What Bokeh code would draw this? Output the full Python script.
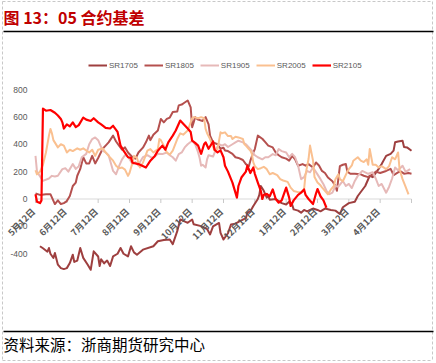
import math
from bokeh.plotting import figure
from bokeh.models import Range1d, Label, Span, Legend, LegendItem
from bokeh.core.properties import value
from bokeh.embed import file_html
from bokeh.resources import INLINE

# ---------------- data (trading-day index, basis value) ----------------
month_labels = ["5月12日", "6月12日", "7月12日", "8月12日", "9月12日", "10月12日",
                "11月12日", "12月12日", "1月12日", "2月12日", "3月12日", "4月12日"]
days_per_label = 21
n_days = 252
y_ticks = [800, 600, 400, 200, 0, -200, -400]
y_tick_labels = ["800", "600", "400", "200", "0", "-200", "-400"]

sr1705_day = [3,5,8,9,10,12,13,15,17,19,21,23,25,26,28,30,32,35,37,39,42,43,44,46,48,50,52,55,57,59,62,64,66,68,72,79,82,86,90,92,95,97,102,105,106,111,115,117,119,123,124,126,129,131,134,137,141,142,144,146,149,150,151,153,155,156,157,161,163,165,168,170,172,173,176,178,180,182,184,186,189,191,194,198,201,204,206,210,214,216,221,224,226,230,232,235,238,240,241,243,246,247,249,252]
sr1705_val = [-345,-360,-385,-358,-400,-431,-394,-480,-505,-512,-505,-468,-407,-460,-450,-358,-430,-480,-517,-382,-420,-490,-440,-470,-450,-490,-419,-400,-358,-400,-419,-345,-390,-407,-370,-345,-309,-300,-296,-330,-235,-149,-174,-150,-185,-198,-220,-259,-200,-175,-247,-296,-250,-186,-180,-162,-140,-100,-90,-51,0,30,95,60,10,20,-5,0,-15,-30,-40,-20,-40,-76,-85,-100,-80,-90,-80,-70,-80,-90,-70,-80,-85,-110,-60,-30,-20,22,95,170,160,220,255,315,330,353,414,420,426,380,377,353]

sr1805_day = [0,3,7,10,13,15,17,19,21,23,25,27,28,30,32,34,36,38,40,42,45,47,49,52,54,56,58,60,62,65,67,69,72,74,76,77,79,82,84,86,88,90,92,95,96,98,100,102,104,105,106,107,109,112,114,116,117,119,122,124,126,127,129,132,134,136,139,141,143,144,146,147,149,152,154,156,159,161,163,165,168,170,172,174,176,179,181,183,186,188,190,192,194,196,199,201,202,204,206,208,209,211,214,218,220,223,226,228,231,235,238,240,243,245,247,250,252]
sr1805_val = [40,30,35,35,-37,-10,-37,-30,-15,22,95,120,170,220,305,260,260,315,260,300,367,390,414,463,420,390,360,377,340,305,295,340,375,414,463,430,470,500,585,560,585,595,635,640,684,690,705,720,670,524,560,598,580,570,598,545,463,414,400,367,375,355,350,330,305,300,285,255,240,280,340,365,463,440,415,390,377,340,320,305,295,280,315,290,243,255,243,255,230,267,245,205,190,157,130,95,60,240,250,255,200,184,184,180,170,160,180,200,190,205,220,175,195,200,185,190,185]

sr1905_day = [0,1,5,9,11,13,15,18,20,22,25,27,29,31,34,36,38,40,42,45,47,49,52,54,56,58,60,62,65,67,69,70,72,75,78,80,82,85,88,90,92,94,96,98,100,102,105,107,109,110,111,112,114,115,116,119,121,123,125,127,129,132,134,136,139,141,143,145,147,149,152,154,156,159,161,163,165,168,170,172,174,176,178,180,182,184,186,189,191,193,195,197,199,201,203,206,208,210,212,214,216,219,221,223,226,228,230,232,235,237,239,241,243,246,248,250,251]
sr1905_val = [315,200,132,150,169,165,170,218,225,200,255,220,240,305,330,400,438,450,430,353,340,320,205,181,240,290,320,310,255,270,243,270,305,320,300,310,330,328,340,320,305,280,328,340,377,400,426,400,340,300,243,250,230,290,320,310,365,400,390,400,380,400,414,426,414,400,377,353,320,305,290,305,305,328,320,365,350,340,305,330,305,243,145,160,205,195,230,180,145,108,60,35,46,95,90,132,95,110,80,132,169,205,195,184,195,150,95,110,46,90,150,230,210,243,200,210,220]

sr2005_day = [0,1,3,5,7,9,10,11,12,15,17,19,21,23,25,28,30,32,36,38,40,42,45,47,49,52,54,56,58,60,62,63,65,66,68,70,72,75,77,79,82,83,84,86,88,90,92,95,97,99,102,104,105,106,109,111,113,114,115,117,119,120,122,124,125,127,129,131,132,134,136,139,140,141,143,144,145,146,147,149,151,153,155,157,159,162,164,166,169,171,173,176,178,180,181,183,184,186,187,189,191,192,194,196,198,200,201,203,204,206,209,210,212,213,216,218,220,222,223,224,226,228,230,232,235,237,239,241,243,244,246,248,250]
sr2005_val = [210,180,200,250,340,463,512,480,430,377,400,390,340,360,350,370,360,370,340,360,315,360,370,340,315,280,243,225,230,215,169,190,265,315,300,230,265,353,365,340,365,438,430,390,340,325,353,438,480,470,500,560,590,598,590,598,590,512,480,438,380,353,365,487,480,487,460,460,438,455,450,438,400,390,365,353,330,267,240,218,225,235,218,181,190,175,145,135,125,83,59,50,50,70,180,292,390,280,160,120,100,85,60,34,70,95,145,181,145,130,200,218,245,280,305,280,270,290,250,365,250,250,230,240,218,240,305,290,340,218,145,90,34]

sr2105_day = [0,1,3,4,5,7,10,13,15,17,18,19,21,23,25,27,29,32,34,37,39,42,44,47,50,52,55,57,59,62,64,65,69,74,77,80,82,85,87,89,92,94,97,99,102,104,105,107,109,111,113,114,116,119,120,122,124,126,127,129,132,135,136,138,141,142,144,146,147,149,151,152,153,155,157,159,161,163,165,168,170,171,173,176,178,180,181,183,186,188,189,191,193,195]
sr2105_val = [35,-20,-30,-10,660,645,650,630,610,585,560,515,545,530,560,525,540,595,580,570,590,560,545,520,515,535,490,390,353,305,300,265,255,230,280,315,353,390,360,414,463,500,573,550,515,490,426,410,390,330,400,414,367,420,360,340,355,305,243,200,120,10,95,157,200,243,190,230,184,120,60,0,30,37,20,70,0,-27,-10,83,10,-51,-10,30,46,70,30,0,-37,40,73,20,-10,-64]

series = [
    ("SR1705", sr1705_day, sr1705_val, "#9E3F3F", 2.0),
    ("SR1805", sr1805_day, sr1805_val, "#B5504E", 2.0),
    ("SR1905", sr1905_day, sr1905_val, "#E6B9B8", 2.0),
    ("SR2005", sr2005_day, sr2005_val, "#FAC090", 2.0),
    ("SR2105", sr2105_day, sr2105_val, "#FF0000", 2.2),
]

# ---------------- layout ----------------
W, H = 436, 363
PX_PER_DAY = 376 / n_days
PX_PER_UNIT = 109.5 / 800
X0 = 35.0     # canvas x of first trading day
Y0 = 198.5    # canvas y of value 0

x_start = -X0 / PX_PER_DAY
x_end = x_start + W / PX_PER_DAY
y_end = Y0 / PX_PER_UNIT
y_start = y_end - H / PX_PER_UNIT


def cx(px):
    """canvas x pixel -> data x"""
    return x_start + px / PX_PER_DAY


def cy(py):
    """canvas y pixel (from top) -> data y"""
    return y_end - py / PX_PER_UNIT


p = figure(width=W, height=H, output_backend="svg", toolbar_location=None,
           x_range=Range1d(x_start, x_end), y_range=Range1d(y_start, y_end),
           x_axis_location=None, y_axis_location=None, min_border=0,
           outline_line_color=None, background_fill_color="white",
           border_fill_color="white")
p.grid.visible = False

# dashed page border
p.segment(x0=[cx(2), cx(432), cx(2), cx(2)], y0=[cy(1), cy(1), cy(1), cy(360)],
          x1=[cx(2), cx(432), cx(432), cx(432)], y1=[cy(360), cy(360), cy(1), cy(360)],
          line_color="#C8C8C8", line_width=1, line_dash="3 2")

# category axis at zero
tick_days = list(range(0, n_days + 1, days_per_label))
label_days = tick_days[:len(month_labels)]
p.segment(x0=[tick_days[0]], y0=[0], x1=[tick_days[-1]], y1=[0],
          line_color="#D9D9D9", line_width=1)
tick_len = 4 / PX_PER_UNIT
p.segment(x0=tick_days, y0=[0] * len(tick_days), x1=tick_days,
          y1=[-tick_len] * len(tick_days), line_color="#C8C8C8", line_width=1)

renderers = []
for name, d, v, col, lw in series:
    r = p.line(x=d, y=v, line_color=col, line_width=lw, line_join="round")
    renderers.append((name, r))

# x tick labels (rotated)
p.text(x=label_days, y=[0] * len(label_days), text=month_labels,
       angle=math.pi / 4, text_align="right", text_baseline="middle",
       x_offset=-2, y_offset=11, text_font=value("Noto Sans CJK SC"),
       text_font_style="bold", text_font_size="9px", text_color="#595959")

# y tick labels
p.text(x=[x_start] * len(y_ticks), y=y_ticks, text=y_tick_labels,
       x_offset=27, text_align="right", text_baseline="middle",
       text_font=value("Liberation Sans"), text_font_size="8.5px",
       text_color="#595959")

legend = Legend(items=[LegendItem(label=n, renderers=[r]) for n, r in renderers],
                orientation="horizontal", location=(88, 293),
                glyph_width=19, glyph_height=10, label_height=10,
                label_standoff=2, spacing=6, padding=0, margin=0,
                border_line_color=None, background_fill_alpha=0,
                label_text_font="Liberation Sans", label_text_font_size="8px",
                label_text_color="#595959")
p.add_layout(legend)

# title, rules and source
p.add_layout(Label(x=3, y=347, x_units="screen", y_units="screen",
                   text="图 13：05 合约基差", text_font="Noto Sans CJK SC",
                   text_font_style="bold", text_font_size="16px",
                   text_color="#C00000", text_baseline="middle"))
p.segment(x0=[cx(3), cx(3)], y0=[cy(31), cy(331)], x1=[cx(433), cx(433)],
          y1=[cy(31), cy(331)], line_color="black", line_width=1.5)
p.add_layout(Label(x=3, y=20, x_units="screen", y_units="screen",
                   text="资料来源：浙商期货研究中心", text_font="Noto Sans CJK SC",
                   text_font_size="15.5px", text_color="black",
                   text_baseline="middle"))

open("out.html", "w").write(file_html(p, INLINE))
